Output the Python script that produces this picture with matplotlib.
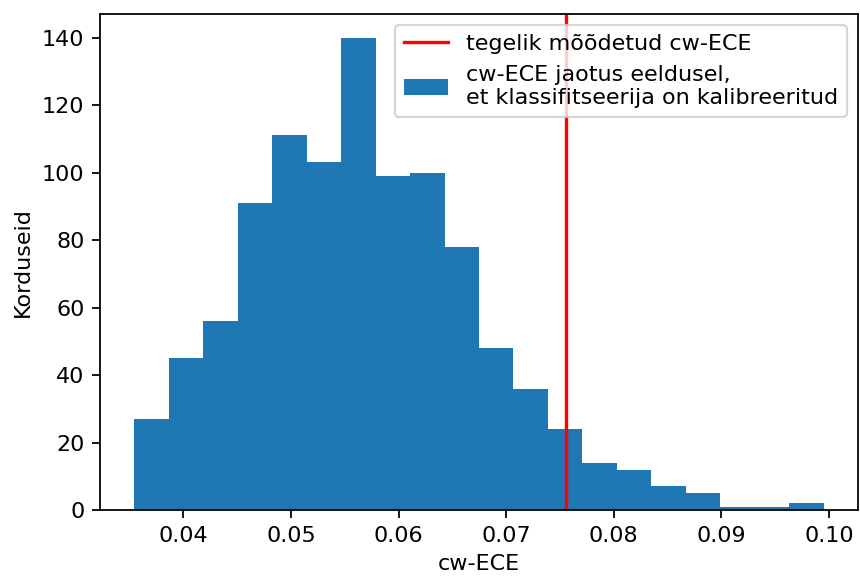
import numpy as np
import matplotlib
matplotlib.use("Agg")
import matplotlib.pyplot as plt

bin_start = 0.03545
bin_end = 0.0995
counts = [27, 45, 56, 91, 111, 103, 140, 99, 100, 78, 48, 36, 24, 14, 12, 7, 5, 1, 1, 2]
measured = 0.07555

edges = np.linspace(bin_start, bin_end, len(counts) + 1)

DPI = 160
fig = plt.figure(figsize=(860 / DPI, 577 / DPI), dpi=DPI)
ax = fig.add_axes([100 / 860, 1 - 510 / 577, 758 / 860, 496 / 577])

ax.axvline(measured, color="red", label="tegelik mõõdetud cw-ECE")
ax.hist(edges[:-1], bins=edges, weights=counts, color="#1f77b4",
        label="cw-ECE jaotus eeldusel,\net klassifitseerija on kalibreeritud")
ax.set_xlabel("cw-ECE")
ax.set_ylabel("Korduseid")
ax.legend(loc="upper right")

fig.savefig("out.png", dpi=DPI)
